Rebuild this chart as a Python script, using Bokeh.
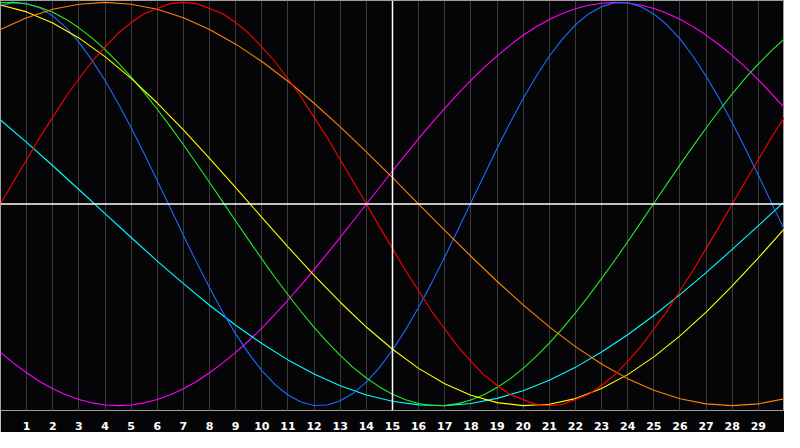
from bokeh.plotting import figure
from bokeh.models import Range1d, FixedTicker, Span
from bokeh.embed import file_html
from bokeh.resources import INLINE

# x positions (0..30), half-step positions and tick labels
x = list(range(31))
x_half = [i + 0.5 for i in range(30)]
tick_values = list(range(1, 30))

# series values at each integer x
red = [0.00, 0.22, 0.43, 0.62, 0.78, 0.90, 0.97, 1.00, 0.97, 0.90, 0.78, 0.62, 0.43, 0.22, 0.00,
       -0.22, -0.43, -0.62, -0.78, -0.90, -0.97, -1.00, -0.97, -0.90, -0.78, -0.62, -0.43, -0.22,
       0.00, 0.22, 0.43]
orange = [0.866, 0.924, 0.966, 0.991, 1.00, 0.991, 0.966, 0.924, 0.866, 0.793, 0.707, 0.609, 0.50,
          0.383, 0.259, 0.131, 0.00, -0.131, -0.259, -0.383, -0.50, -0.609, -0.707, -0.793, -0.866,
          -0.924, -0.966, -0.991, -1.00, -0.991, -0.966]
yellow = [0.987, 0.953, 0.898, 0.824, 0.731, 0.623, 0.501, 0.368, 0.227, 0.081, -0.066, -0.212,
          -0.354, -0.487, -0.610, -0.720, -0.815, -0.891, -0.948, -0.985, -1.00, -0.993, -0.965,
          -0.915, -0.846, -0.758, -0.654, -0.536, -0.406, -0.267, -0.122]
green = [0.998, 0.992, 0.951, 0.874, 0.766, 0.630, 0.470, 0.294, 0.107, -0.084, -0.272, -0.450,
         -0.612, -0.751, -0.863, -0.943, -0.989, -0.999, -0.972, -0.910, -0.815, -0.690, -0.540,
         -0.370, -0.187, 0.004, 0.194, 0.377, 0.546, 0.695, 0.819]
cyan = [0.417, 0.306, 0.190, 0.072, -0.048, -0.166, -0.283, -0.395, -0.502, -0.601, -0.692, -0.773,
        -0.843, -0.901, -0.947, -0.978, -0.996, -1.00, -0.989, -0.964, -0.926, -0.874, -0.810,
        -0.734, -0.648, -0.553, -0.449, -0.340, -0.225, -0.107, 0.012]
blue = [0.984, 0.995, 0.933, 0.803, 0.613, 0.378, 0.115, -0.156, -0.415, -0.644, -0.826, -0.947,
        -0.999, -0.976, -0.883, -0.724, -0.512, -0.262, 0.007, 0.275, 0.523, 0.733, 0.889, 0.979,
        0.998, 0.943, 0.819, 0.634, 0.403, 0.143, -0.129]
magenta = [-0.736, -0.837, -0.916, -0.969, -0.997, -0.997, -0.969, -0.916, -0.837, -0.736, -0.615,
           -0.476, -0.325, -0.165, -0.001, 0.164, 0.324, 0.475, 0.613, 0.735, 0.837, 0.915, 0.969,
           0.996, 0.997, 0.970, 0.916, 0.838, 0.737, 0.616, 0.477]

# extra readings between gridlines for the faster-turning curves
red_half = [0.112, 0.330, 0.532, 0.707, 0.847, 0.944, 0.994, 0.994, 0.944, 0.847, 0.707, 0.532,
            0.330, 0.112, -0.112, -0.330, -0.532, -0.707, -0.847, -0.944, -0.994, -0.994, -0.944,
            -0.847, -0.707, -0.532, -0.330, -0.112, 0.112, 0.330]
blue_half = [0.999, 0.973, 0.876, 0.714, 0.500, 0.249, -0.020, -0.288, -0.535, -0.742, -0.895,
             -0.982, -0.997, -0.938, -0.811, -0.624, -0.391, -0.129, 0.142, 0.403, 0.634, 0.818,
             0.943, 0.998, 0.979, 0.889, 0.733, 0.524, 0.275, 0.007]
green_half = [1.000, 0.976, 0.917, 0.824, 0.701, 0.553, 0.384, 0.201, 0.012, -0.179, -0.363,
              -0.533, -0.684, -0.811, -0.907, -0.971, -0.999, -0.990, -0.946, -0.867, -0.756,
              -0.618, -0.457, -0.280, -0.092, 0.099, 0.287, 0.464, 0.624, 0.761]
magenta_half = [-0.789, -0.880, -0.946, -0.986, -1.000, -0.986, -0.946, -0.880, -0.789, -0.678,
                -0.547, -0.402, -0.246, -0.083, 0.082, 0.245, 0.401, 0.546, 0.677, 0.788, 0.879,
                0.945, 0.986, 1.000, 0.987, 0.946, 0.880, 0.790, 0.679, 0.548]


def merge(vals, half=None):
    if half is None:
        return list(x), list(vals)
    xs, ys = [], []
    for i in range(len(x)):
        xs.append(x[i])
        ys.append(vals[i])
        if i < len(x_half):
            xs.append(x_half[i])
            ys.append(half[i])
    return xs, ys


series = [
    (magenta, magenta_half, "#ff00ff"),
    (cyan, None, "#00ffff"),
    (blue, blue_half, "#1a6cff"),
    (green, green_half, "#22ee22"),
    (yellow, None, "#ffff00"),
    (orange, None, "#ff8000"),
    (red, red_half, "#ff0000"),
]

BG = "#050508"

p = figure(width=784, height=432, output_backend="svg", toolbar_location=None,
           x_range=Range1d(0, 30), y_range=Range1d(-1.024, 1.0095),
           min_border_left=0, min_border_right=0, min_border_top=0, min_border_bottom=20)

p.background_fill_color = BG
p.border_fill_color = BG
p.outline_line_color = "#a0a0a0"
p.outline_line_width = 1

p.yaxis.visible = False
p.ygrid.visible = False

p.xaxis.ticker = FixedTicker(ticks=tick_values)
p.xaxis.axis_line_color = None
p.xaxis.major_tick_line_color = None
p.xaxis.minor_tick_line_color = None
p.xaxis.major_label_text_color = "white"
p.xaxis.major_label_text_font = "DejaVu Sans"
p.xaxis.major_label_text_font_style = "bold"
p.xaxis.major_label_text_font_size = "11px"
p.xaxis.major_label_standoff = 5

p.xgrid.ticker = FixedTicker(ticks=tick_values)
p.xgrid.grid_line_color = "#3a3a3a"
p.xgrid.grid_line_width = 1

p.add_layout(Span(location=15, dimension="height", line_color="white", line_width=1.5))
p.add_layout(Span(location=0, dimension="width", line_color="white", line_width=1.5))

for vals, half, col in series:
    xs, ys = merge(vals, half)
    p.line(xs, ys, line_color=col, line_width=1.1)

open("out.html", "w").write(file_html(p, INLINE))
